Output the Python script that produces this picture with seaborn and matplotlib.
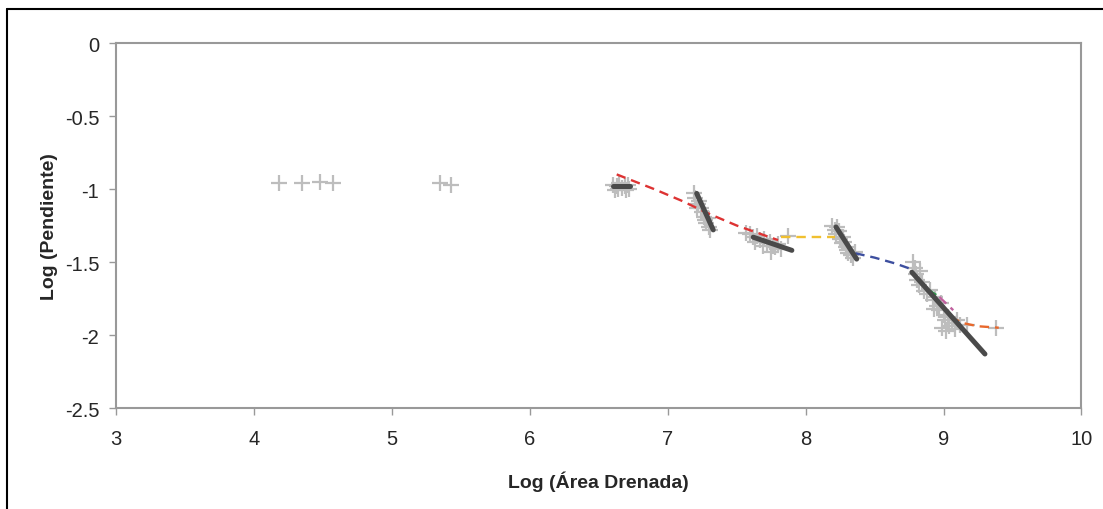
import numpy as np
import pandas as pd
import matplotlib
matplotlib.use("Agg")
import matplotlib.pyplot as plt
import seaborn as sns

# observed points (log area, log slope)
pts_x = [4.18, 4.35, 4.48, 4.57, 5.35, 5.43,
         6.60, 6.63, 6.65, 6.67, 6.69, 6.71, 6.72, 6.64, 6.62, 6.70,
         7.19, 7.20, 7.22, 7.23, 7.24, 7.25, 7.26, 7.27, 7.28, 7.30, 7.31, 7.21, 7.29,
         7.57, 7.60, 7.62, 7.65, 7.67, 7.70, 7.72, 7.74, 7.76, 7.78, 7.80, 7.82, 7.75, 7.69, 7.87, 7.63,
         8.19, 8.21, 8.22, 8.24, 8.25, 8.26, 8.28, 8.29, 8.30, 8.31, 8.33, 8.34, 8.36, 8.23, 8.27,
         8.78, 8.79, 8.80, 8.81, 8.82, 8.84, 8.86, 8.88, 8.90, 8.92, 8.94, 8.95, 8.97, 8.98,
         9.00, 9.01, 9.03, 9.04, 9.06, 9.08, 8.99, 9.02, 9.10, 9.12, 8.83, 8.93, 9.17, 9.38]
pts_y = [-0.96, -0.96, -0.95, -0.96, -0.96, -0.97,
         -0.97, -0.98, -0.96, -0.99, -0.98, -0.97, -1.00, -1.00, -1.01, -1.01,
         -1.03, -1.06, -1.10, -1.08, -1.13, -1.16, -1.19, -1.21, -1.23, -1.26, -1.28, -1.13, -1.20,
         -1.30, -1.31, -1.33, -1.32, -1.35, -1.34, -1.37, -1.36, -1.39, -1.40, -1.38, -1.41, -1.43, -1.39, -1.32, -1.36,
         -1.25, -1.28, -1.31, -1.29, -1.34, -1.37, -1.36, -1.40, -1.42, -1.44, -1.45, -1.47, -1.43, -1.26, -1.33,
         -1.50, -1.54, -1.58, -1.62, -1.66, -1.64, -1.70, -1.72, -1.69, -1.76, -1.74, -1.80, -1.83, -1.78,
         -1.86, -1.90, -1.88, -1.94, -1.92, -1.96, -1.95, -1.97, -1.90, -1.93, -1.56, -1.82, -1.93, -1.95]

# regression segments (dark lines)
seg_id = [1, 1, 2, 2, 3, 3, 4, 4, 5, 5]
seg_x = [6.60, 6.73, 7.21, 7.33, 7.62, 7.90, 8.22, 8.37, 8.77, 9.30]
seg_y = [-0.98, -0.98, -1.03, -1.28, -1.33, -1.42, -1.26, -1.48, -1.57, -2.13]

# fitted dashed curves
red_x = [6.63, 6.90, 7.10, 7.30, 7.50, 7.65, 7.80]
red_y = [-0.90, -1.00, -1.08, -1.17, -1.25, -1.30, -1.35]
yel_x = [7.82, 8.00, 8.21]
yel_y = [-1.33, -1.33, -1.33]
blu_x = [8.36, 8.50, 8.65, 8.77]
blu_y = [-1.44, -1.47, -1.51, -1.55]
grn_x = [8.89, 8.97]
grn_y = [-1.69, -1.74]
mag_x = [8.97, 9.07]
mag_y = [-1.74, -1.83]
org_x = [9.05, 9.15, 9.25, 9.40]
org_y = [-1.88, -1.92, -1.94, -1.95]

sns.set_style("white")
plt.rcParams["font.family"] = ["Liberation Sans", "DejaVu Sans"]

fig = plt.figure(figsize=(11.03, 5.10), dpi=100)
ax = fig.add_axes([0.1052, 0.198, 0.8753, 0.7157])

pts = pd.DataFrame({"x": pts_x, "y": pts_y})
sns.scatterplot(data=pts, x="x", y="y", marker="+", s=120, color="#bdbdbd",
                linewidth=1.6, ax=ax, zorder=2)

dashed = [(red_x, red_y, "#dd3333"), (yel_x, yel_y, "#f0c030"),
          (blu_x, blu_y, "#3d4f9f"), (grn_x, grn_y, "#2e9a4a"),
          (mag_x, mag_y, "#c0609e"), (org_x, org_y, "#e8682c")]
for xs, ys, c in dashed:
    sns.lineplot(x=xs, y=ys, color=c, linestyle=(0, (4, 2.5)), linewidth=1.7,
                 ax=ax, zorder=3, sort=False)

segs = pd.DataFrame({"id": seg_id, "x": seg_x, "y": seg_y})
for sid, g in segs.groupby("id"):
    sns.lineplot(data=g, x="x", y="y", color="#4a4a4a", linewidth=3.6,
                 ax=ax, zorder=4, sort=False)

ax.set_xlim(3, 10)
ax.set_ylim(-2.5, 0)
ax.set_xticks(range(3, 11))
ax.set_yticks([0, -0.5, -1, -1.5, -2, -2.5])
ax.set_yticklabels(["0", "-0.5", "-1", "-1.5", "-2", "-2.5"])
ax.tick_params(axis="both", labelsize=14.5, length=5, width=1, color="#999999",
               direction="out", bottom=True, left=True)
ax.tick_params(axis="y", pad=7)
ax.tick_params(axis="x", pad=10)
for s in ax.spines.values():
    s.set_visible(True)
    s.set_color("#999999")
    s.set_linewidth(1.5)

ax.set_xlabel("Log (Área Drenada)", fontsize=14, fontweight="bold", labelpad=16)
ax.set_ylabel("Log (Pendiente)", fontsize=14, fontweight="bold", labelpad=5)

# outer frame edge (left and top)
fig.add_artist(plt.Line2D([0.0065, 0.0065], [0, 0.98], transform=fig.transFigure,
                          color="black", linewidth=1.5))
fig.add_artist(plt.Line2D([0.0065, 1.0], [0.98, 0.98], transform=fig.transFigure,
                          color="black", linewidth=1.5))

fig.savefig("out.png", dpi=100)
